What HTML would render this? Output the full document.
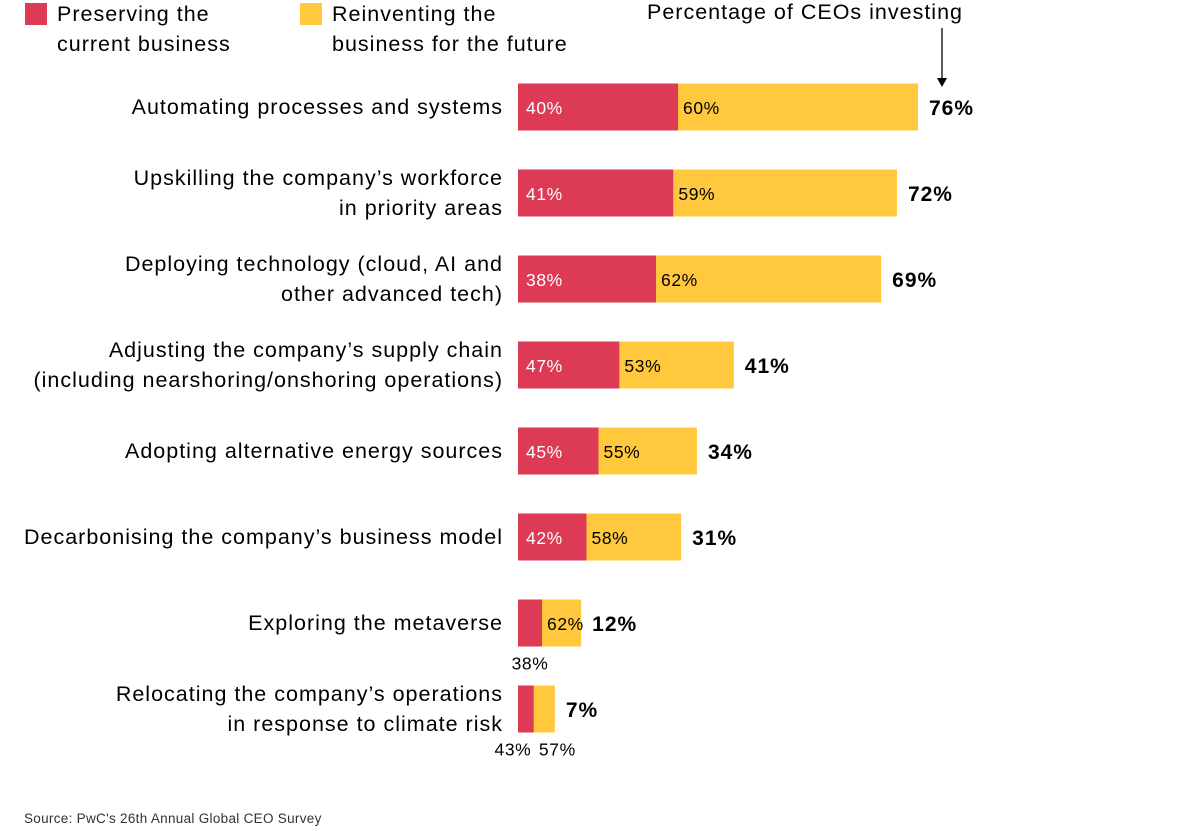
<!DOCTYPE html>
<html><head><meta charset="utf-8"><style>
body{margin:0;background:#fff;font-family:"Liberation Sans",Arial,sans-serif;}
svg{display:block}
.m{font-size:21.5px;letter-spacing:1px}
</style></head><body>
<svg id="c" width="1187" height="828" xmlns="http://www.w3.org/2000/svg">
<g>
<rect x="25" y="3" width="22" height="22" fill="#dc3a55"/>
<text class="m" x="57" y="21">Preserving the</text>
<text class="m" x="57" y="51">current business</text>
<rect x="300" y="3" width="22" height="22" fill="#ffc83d"/>
<text class="m" x="332" y="21">Reinventing the</text>
<text class="m" x="332" y="51">business for the future</text>
</g>
<text class="m" x="963" y="19" text-anchor="end">Percentage of CEOs investing</text>
<line x1="942" y1="28" x2="942" y2="80" stroke="#000" stroke-width="1.3"/>
<polygon points="937,78 947,78 942,87" fill="#000"/>
<g id="bars"></g>
<text x="24" y="823" font-size="13.5" letter-spacing="0.3" fill="#333">Source: PwC's 26th Annual Global CEO Survey</text>
</svg>
<script>
const categories=[["Automating processes and systems"],["Upskilling the company’s workforce","in priority areas"],["Deploying technology (cloud, AI and","other advanced tech)"],["Adjusting the company’s supply chain","(including nearshoring/onshoring operations)"],["Adopting alternative energy sources"],["Decarbonising the company’s business model"],["Exploring the metaverse"],["Relocating the company’s operations","in response to climate risk"]];
const totals=[76,72,69,41,34,31,12,7];
const preserving=[40,41,38,47,45,42,38,43];
const reinventing=[60,59,62,53,55,58,62,57];
const NS="http://www.w3.org/2000/svg";
const g=document.getElementById('bars');
const x0=518, pxPer=400/76, barH=47;
function xs(v){return v*pxPer;}
function yc(i){return 107+i*86;}
function mk(tag,attrs,txt){const e=document.createElementNS(NS,tag);for(const k in attrs)e.setAttribute(k,attrs[k]);if(txt!==undefined)e.textContent=txt;g.appendChild(e);return e;}
categories.forEach((lines,i)=>{
  const c=yc(i), W=xs(totals[i]), wr=W*preserving[i]/100, wy=W-wr;
  const n=lines.length;
  lines.forEach((l,j)=>{
    const t=mk('text',{x:503,y:c+7+(j-(n-1)/2)*30,'class':'m','text-anchor':'end'},l);
    
    
  });
  const r=mk('rect',{x:x0,y:c-barH/2,width:wr,height:barH,fill:'#dc3a55'});
  
  
  const y=mk('rect',{x:x0+wr,y:c-barH/2,width:wy,height:barH,fill:'#ffc83d'});
  
  
  let lp,ly;
  if(wr>=45){
    lp=mk('text',{x:x0+8,y:c+7,'font-size':17.5,'letter-spacing':0.6,fill:'#fff'},preserving[i]+'%');
  } else {
    lp=mk('text',{x:x0+wr/2+(wy<38?-13:0),y:c+barH/2+23,'font-size':17.5,'letter-spacing':0.6,'text-anchor':'middle'},preserving[i]+'%');
  }
  
  
  if(wy>=38){
    ly=mk('text',{x:x0+wr+5,y:c+7,'font-size':17.5,'letter-spacing':0.6},reinventing[i]+'%');
  } else {
    ly=mk('text',{x:x0+wr+wy/2+13,y:c+barH/2+23,'font-size':17.5,'letter-spacing':0.6,'text-anchor':'middle'},reinventing[i]+'%');
  }
  
  
  const tt=mk('text',{x:x0+W+11,y:c+8,'font-size':21,'letter-spacing':1,'font-weight':'bold'},totals[i]+'%');
  
  
});
</script>
</body></html>
